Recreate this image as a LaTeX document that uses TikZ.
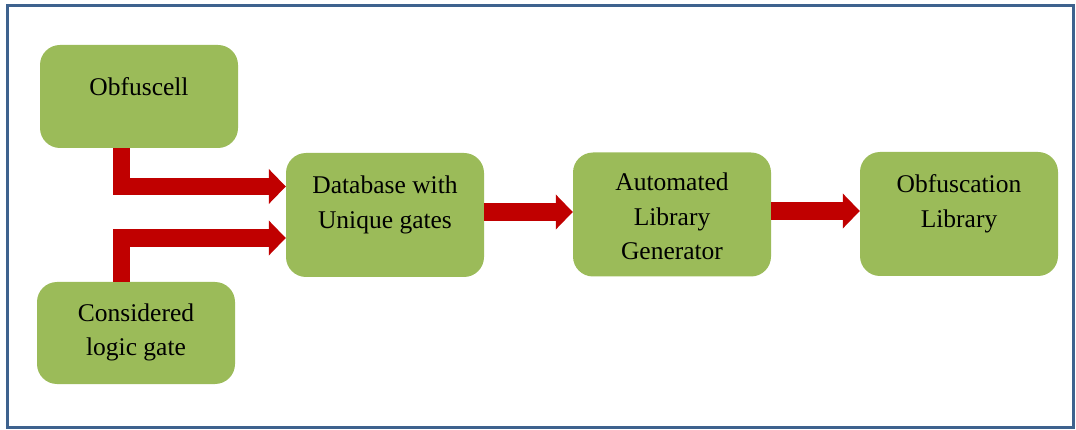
\documentclass[tikz,border=0pt]{standalone}
\usepackage{fontspec}
\setmainfont{Liberation Serif}
\usetikzlibrary{arrows.meta,calc}
\definecolor{boxgreen}{RGB}{155,187,89}
\definecolor{flowred}{RGB}{192,0,0}
\definecolor{framecol}{RGB}{62,98,142}
\begin{document}
\begin{tikzpicture}[x=1pt,y=-1pt,
  box/.style={draw=none, fill=boxgreen, rounded corners=20pt, minimum width=198pt, minimum height=#1, inner sep=0pt},
  box/.default=124pt,
  txt/.style={align=center, font=\fontsize{25.5}{34.5}\selectfont, inner sep=0pt},
  flow/.style={draw=flowred, line width=17.5pt, miter limit=10, line join=miter,
    -{Triangle[length=17pt,width=34pt]}}
]
\useasboundingbox (0,0) rectangle (1076,430);
\draw[framecol, line width=3pt] (7.5,5.5) rectangle (1073.5,427);

% blocks
\node[box=103pt] (obf) at (139,96.5) {};
\node[txt] at ($(obf.center)+(0,-10)$) {Obfuscell};
\node[box=102pt] (cons) at (136,333) {};
\node[txt] at ($(cons.center)+(0,-0.5)$) {Considered\\logic gate};
\node[box] (db) at (385,215) {};
\node[txt] at ($(db.center)+(0,-10)$) {Database with\\Unique gates};
\node[box] (alg) at (672,214.5) {};
\node[txt] at ($(alg.center)+(0,2)$) {Automated\\Library\\Generator};
\node[box] (lib) at (959,214) {};
\node[txt] at ($(lib.center)+(0,-10)$) {Obfuscation\\Library};

% connectors
\draw[flow] (121.5,0 |- obf.south) |- ($(db.west)+(0,-28.5)$);
\draw[flow] (121.5,0 |- cons.north) |- ($(db.west)+(0,23)$);
\draw[flow] (db.east |- 0,212) -- (alg.west |- 0,212);
\draw[flow] (alg.east |- 0,211) -- (lib.west |- 0,211);
\end{tikzpicture}
\end{document}
